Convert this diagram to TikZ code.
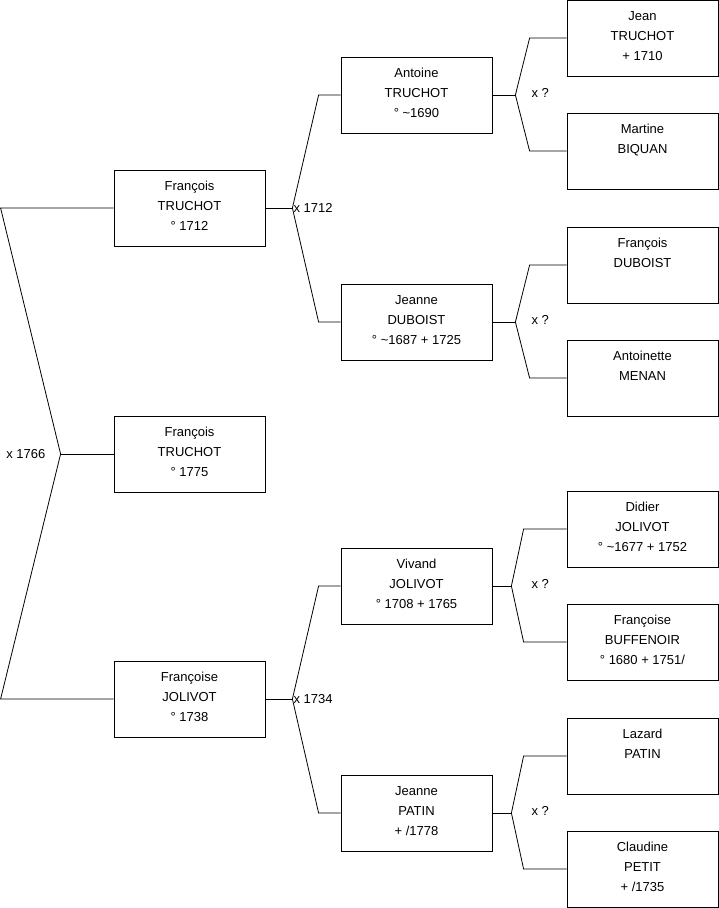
\documentclass[tikz,border=0pt]{standalone}
\usepackage{fontspec}
\setmainfont{Liberation Sans}
\usepackage{tikz}
\usetikzlibrary{positioning}
\newcommand{\who}[1]{\parbox[c][76pt][t]{151pt}{\centering\rule{0pt}{20.5pt}#1}}

\begin{document}
\begin{tikzpicture}[
    x=1pt,y=-1pt,
    font=\fontsize{13}{20}\selectfont,
    pers/.style={draw=black,line width=0.8pt,minimum width=151pt,minimum height=76pt,inner sep=0pt},
    lnk/.style={draw=black,line width=0.8pt},
    mar/.style={inner sep=1pt}
  ]
    \useasboundingbox (0,0) rectangle (719,908);
    % generation 1 and 2
    \node[pers] (f1) at (189.5,208) {\who{François\\TRUCHOT\\° 1712}};
    \node[pers] (f2) at (189.5,454) {\who{François\\TRUCHOT\\° 1775}};
    \node[pers] (f3) at (189.5,699) {\who{Françoise\\JOLIVOT\\° 1738}};
    % generation 3
    \node[pers] (ant) at (416.5,95) {\who{Antoine\\TRUCHOT\\° \textasciitilde1690}};
    \node[pers] (jdu) at (416.5,322) {\who{Jeanne\\DUBOIST\\° \textasciitilde1687 + 1725}};
    \node[pers] (viv) at (416.5,586) {\who{Vivand\\JOLIVOT\\° 1708 + 1765}};
    \node[pers] (jpa) at (416.5,813) {\who{Jeanne\\PATIN\\+ /1778}};
    % generation 4
    \node[pers] (jea) at (642.5,38) {\who{Jean\\TRUCHOT\\+ 1710}};
    \node[pers] (mar) at (642.5,151) {\who{Martine\\BIQUAN}};
    \node[pers] (fdu) at (642.5,265) {\who{François\\DUBOIST}};
    \node[pers] (atm) at (642.5,378) {\who{Antoinette\\MENAN}};
    \node[pers] (did) at (642.5,529) {\who{Didier\\JOLIVOT\\° \textasciitilde1677 + 1752}};
    \node[pers] (fbu) at (642.5,642) {\who{Françoise\\BUFFENOIR\\° 1680 + 1751/}};
    \node[pers] (laz) at (642.5,756) {\who{Lazard\\PATIN}};
    \node[pers] (cla) at (642.5,869) {\who{Claudine\\PETIT\\+ /1735}};
    % forks
    \coordinate (k0) at ([xshift=-53pt]f2.west);
    \coordinate (k1) at ([xshift=27pt]f1.east);
    \coordinate (k3) at ([xshift=27pt]f3.east);
    \coordinate (ka) at ([xshift=23pt]ant.east);
    \coordinate (kj) at ([xshift=23pt]jdu.east);
    \coordinate (kv) at ([xshift=19pt]viv.east);
    \coordinate (kp) at ([xshift=19pt]jpa.east);
    \draw[lnk] (f1) -- ([xshift=-113pt]f1.west) -- (k0) -- ([xshift=-113pt]f3.west) -- (f3);
    \draw[lnk] (k0) -- (f2);
    \draw[lnk] (f1) -- (k1);
    \draw[lnk] (ant) -- ([xshift=-22pt]ant.west) -- (k1) -- ([xshift=-22pt]jdu.west) -- (jdu);
    \draw[lnk] (f3) -- (k3);
    \draw[lnk] (viv) -- ([xshift=-22pt]viv.west) -- (k3) -- ([xshift=-22pt]jpa.west) -- (jpa);
    \draw[lnk] (ant) -- (ka);
    \draw[lnk] (jea) -- ([xshift=-37pt]jea.west) -- (ka) -- ([xshift=-37pt]mar.west) -- (mar);
    \draw[lnk] (jdu) -- (kj);
    \draw[lnk] (fdu) -- ([xshift=-37pt]fdu.west) -- (kj) -- ([xshift=-37pt]atm.west) -- (atm);
    \draw[lnk] (viv) -- (kv);
    \draw[lnk] (did) -- ([xshift=-43pt]did.west) -- (kv) -- ([xshift=-43pt]fbu.west) -- (fbu);
    \draw[lnk] (jpa) -- (kp);
    \draw[lnk] (laz) -- ([xshift=-43pt]laz.west) -- (kp) -- ([xshift=-43pt]cla.west) -- (cla);
    % marriages
    \node[mar,anchor=east] (m0) at ([xshift=-14pt]k0) {x 1766};
    \node[mar,anchor=west] (m1) at (k1) {x 1712};
    \node[mar,anchor=west] (m3) at (k3) {x 1734};
    \node[mar,anchor=west] (ma) at ([xshift=15pt,yshift=2pt]ka) {x ?};
    \node[mar,anchor=west] (mj) at ([xshift=15pt,yshift=2pt]kj) {x ?};
    \node[mar,anchor=west] (mv) at ([xshift=19pt,yshift=2pt]kv) {x ?};
    \node[mar,anchor=west] (mp) at ([xshift=19pt,yshift=2pt]kp) {x ?};
\end{tikzpicture}
\end{document}
